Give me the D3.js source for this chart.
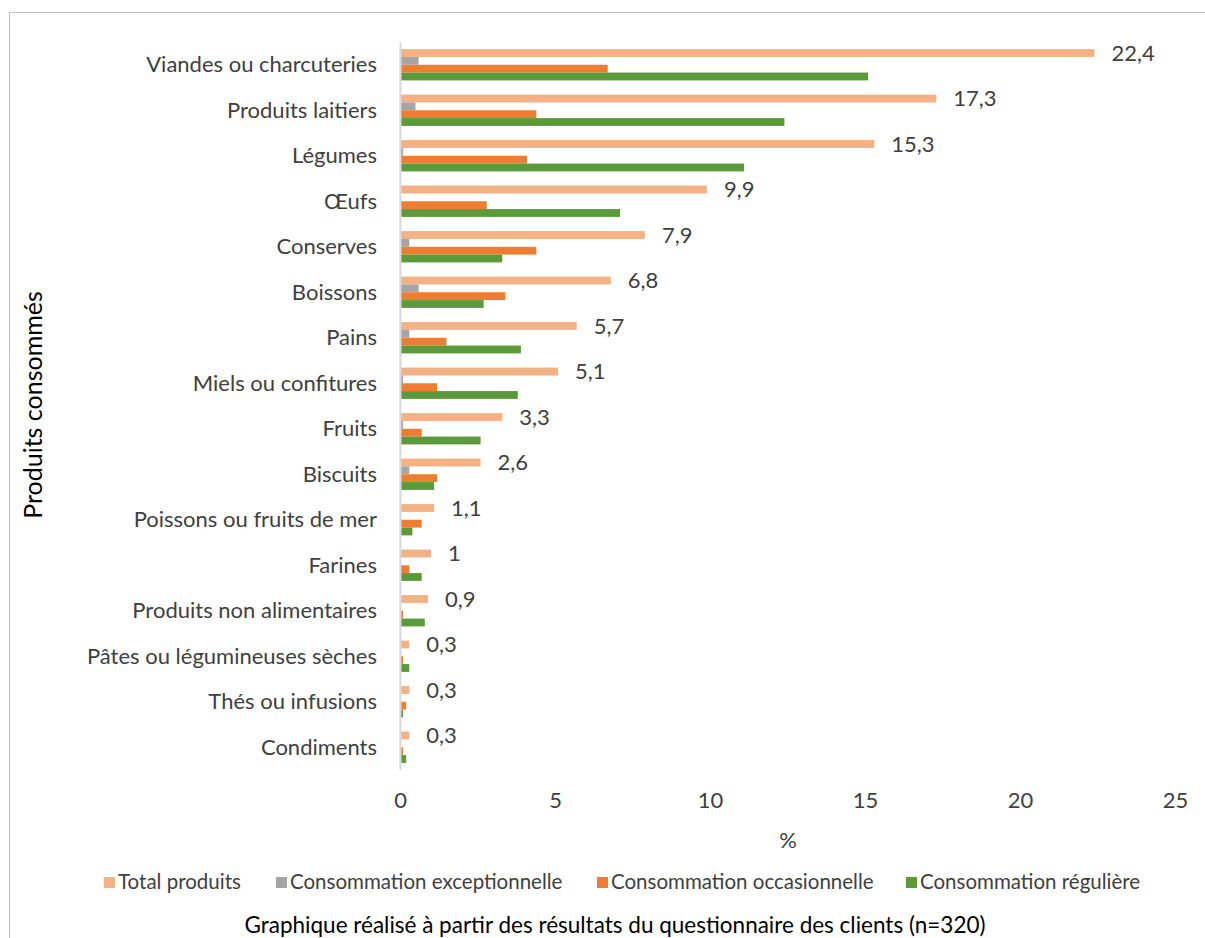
<!DOCTYPE html>
<html><head><meta charset="utf-8">
<script src="https://cdn.jsdelivr.net/npm/d3@7"></script>
<style>
body{margin:0;background:#fff;}
text{font-family:Lato,sans-serif;fill:#404040;}
</style></head>
<body><svg id="c" width="1205" height="938"></svg>
<script>
const categories = ["Viandes ou charcuteries","Produits laitiers","Légumes","Œufs","Conserves","Boissons","Pains","Miels ou confitures","Fruits","Biscuits","Poissons ou fruits de mer","Farines","Produits non alimentaires","Pâtes ou légumineuses sèches","Thés ou infusions","Condiments"];
const seriesNames = ["Total produits","Consommation exceptionnelle","Consommation occasionnelle","Consommation régulière"];
const totalValues = [22.4,17.3,15.3,9.9,7.9,6.8,5.7,5.1,3.3,2.6,1.1,1,0.9,0.3,0.3,0.3];
const exceptionnelleValues = [0.6,0.5,0.1,0,0.3,0.6,0.3,0.1,0.1,0.3,0,0,0,0,0,0];
const occasionnelleValues = [6.7,4.4,4.1,2.8,4.4,3.4,1.5,1.2,0.7,1.2,0.7,0.3,0.1,0.1,0.2,0.1];
const reguliereValues = [15.1,12.4,11.1,7.1,3.3,2.7,3.9,3.8,2.6,1.1,0.4,0.7,0.8,0.3,0.1,0.2];
const xTicks = [0,5,10,15,20,25];
const colors = ["#F4B183","#A5A5A5","#ED7D31","#5B9A3B"];

const seriesValues = [totalValues, exceptionnelleValues, occasionnelleValues, reguliereValues];
const svg = d3.select("#c");
const fs = 22;

svg.append("rect").attr("x",9.5).attr("y",12.5).attr("width",1205).attr("height",940)
  .attr("fill","none").attr("stroke","#bfbfbf").attr("stroke-width",1);

const x = d3.scaleLinear().domain([0,25]).range([400,1175]);
const y = d3.scaleBand().domain(categories).range([42,770]).paddingInner(0.312).paddingOuter(0.156);
const ys = d3.scaleBand().domain(d3.range(4)).range([0,y.bandwidth()]);

const g = svg.append("g");
categories.forEach((c,i)=>{
  seriesValues.forEach((vals,s)=>{
    g.append("rect")
      .attr("x",x(0)).attr("y",y(c)+ys(s))
      .attr("width",Math.max(0,x(vals[i])-x(0))).attr("height",ys.bandwidth())
      .attr("fill",colors[s]);
  });
  g.append("text")
    .attr("x",x(totalValues[i])+17).attr("y",y(c)+ys(0)+ys.bandwidth()/2)
    .attr("dy","0.35em").style("font-size",fs+"px")
    .text(String(totalValues[i]).replace(".",","));
});

// y axis line
svg.append("line").attr("x1",x(0)+0.5).attr("x2",x(0)+0.5).attr("y1",42).attr("y2",770)
  .attr("stroke","#d9d9d9").attr("stroke-width",2);

// category labels
svg.append("g").selectAll("text").data(categories).join("text")
  .attr("x",377).attr("y",d=>y(d)+y.bandwidth()/2).attr("dy","0.35em")
  .attr("text-anchor","end").style("font-size",fs+"px").text(d=>d);

// x tick labels
const xAxis = d3.axisBottom(x).tickValues(xTicks).tickSize(0).tickPadding(0).tickFormat(d=>d);
const xa = svg.append("g").attr("transform","translate(0,794)").call(xAxis);
xa.select(".domain").remove();
xa.selectAll("text").style("font-size",fs+"px").style("font-family","Lato,sans-serif").attr("fill","#404040").attr("dy","0.35em").attr("y",6);

svg.append("text").attr("x",788).attr("y",840).attr("dy","0.35em").attr("text-anchor","middle")
  .style("font-size",fs+"px").text("%");
svg.append("text").attr("transform","translate(33,405) rotate(-90)").attr("dy","0.35em")
  .attr("text-anchor","middle").style("font-size","25px").style("fill","#000").text("Produits consommés");

// legend
const legX = [104,276,597,906];
const leg = svg.append("g");
seriesNames.forEach((n,i)=>{
  leg.append("rect").attr("x",legX[i]).attr("y",877).attr("width",11).attr("height",11).attr("fill",colors[i]);
  leg.append("text").attr("x",legX[i]+14).attr("y",882).attr("dy","0.35em").style("font-size","20.5px").text(n);
});

svg.append("text").attr("x",615).attr("y",925).attr("dy","0.35em").attr("text-anchor","middle")
  .style("font-size","22.5px").style("fill","#000").text("Graphique réalisé à partir des résultats du questionnaire des clients (n=320)");
</script></body></html>
